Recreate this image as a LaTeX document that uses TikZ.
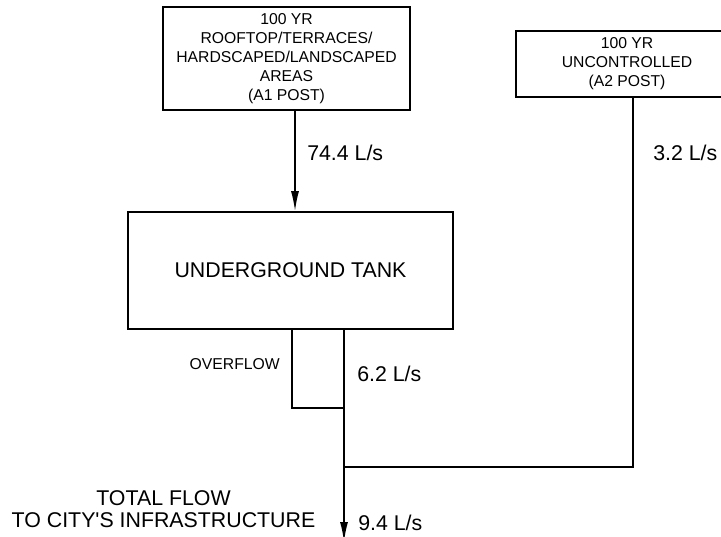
\documentclass[tikz,border=0pt]{standalone}
\usepackage{fontspec}
\setmainfont{Liberation Sans}
\usepackage{tikz}
\usetikzlibrary{arrows.meta}
\tikzset{catchment/.style={draw, line width=1.2pt, align=center, inner sep=0pt, font=\fontsize{11.8}{14.25}\selectfont},
		tankbox/.style={draw, line width=1.2pt, inner sep=0pt, font=\fontsize{16}{19}\selectfont},
		pipe/.style={line width=1.2pt},
		flow/.style={pipe, -{Latex[length=15pt,width=6pt]}},
		rate/.style={anchor=base west, inner sep=0pt, font=\fontsize{16}{19}\selectfont},
		note/.style={inner sep=0pt, align=center, font=\fontsize{16}{16.5}\selectfont}}

\begin{document}
\begin{tikzpicture}[x=0.75pt, y=-0.75pt]

					\useasboundingbox (0,0) rectangle (721,536);
					\clip (0,0) rectangle (721,536);

					\node[catchment, minimum width=185.25pt, minimum height=77.25pt] (a1) at (286.5,58.5)
						{100 YR\\ROOFTOP/TERRACES/\\HARDSCAPED/LANDSCAPED\\AREAS\\(A1 POST)};

					\node[catchment, minimum width=166.5pt, minimum height=49.5pt] (a2) at (627,64)
						{100 YR\\UNCONTROLLED\\(A2 POST)};

					\node[tankbox, minimum width=243.75pt, minimum height=87.75pt] (tank) at (290.5,270.5)
						{UNDERGROUND TANK};

					\coordinate (drop) at (295,160);
					\coordinate (ovl) at (292,408);
					\coordinate (jn) at (344,408);
					\coordinate (mrg) at (344,467);
					\coordinate (bend) at (633,467);
					\coordinate (out) at (344,542);

					\draw[flow] (a1.south -| drop) -- (tank.north -| drop);
					\draw[pipe] (tank.south -| ovl) -- (ovl) -- (jn);
					\draw[flow] (tank.south -| jn) -- (out);
					\draw[pipe] (a2.south -| bend) -- (bend) -- (mrg);

					\node[rate] (q1) at (307,160) {74.4 L/s};
					\node[rate] (q2) at (653,160) {3.2 L/s};
					\node[rate] (q3) at (357,381) {6.2 L/s};
					\node[rate] (q4) at (358,530) {9.4 L/s};
					\node[anchor=base east, inner sep=0pt, font=\fontsize{11.8}{14.25}\selectfont] (ovf) at (280,369) {OVERFLOW};
					\node[note] (dest) at (163.5,509) {TOTAL FLOW\\TO CITY\textquotesingle S INFRASTRUCTURE};

\end{tikzpicture}
\end{document}
